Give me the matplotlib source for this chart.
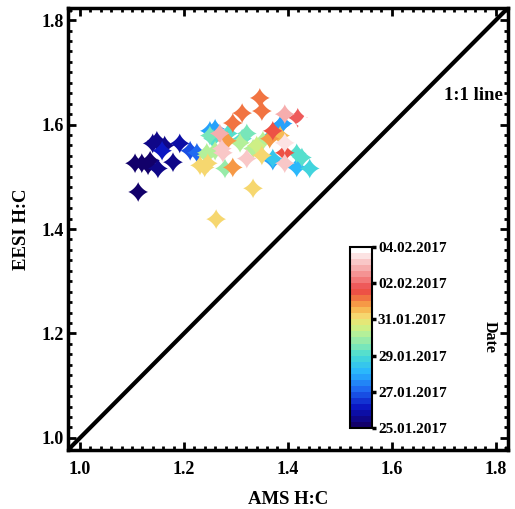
import numpy as np
import matplotlib
matplotlib.use('Agg')
import matplotlib.pyplot as plt
from matplotlib.path import Path
from matplotlib.colors import LinearSegmentedColormap
from matplotlib.ticker import MultipleLocator

plt.rcParams['font.family'] = 'Liberation Serif'
plt.rcParams['font.weight'] = 'bold'

# AMS H:C, EESI H:C and measurement time (days after 25.01.2017)
ams_hc = [1.112, 1.106, 1.119, 1.131, 1.135, 1.150, 1.179, 1.140, 1.148, 1.163,
          1.158, 1.192, 1.212, 1.225, 1.250, 1.256, 1.244, 1.260, 1.231, 1.246,
          1.279, 1.294, 1.269, 1.283, 1.321, 1.308, 1.321, 1.340, 1.350, 1.294,
          1.312, 1.346, 1.350, 1.394, 1.371, 1.385, 1.385, 1.394, 1.394, 1.371,
          1.394, 1.417, 1.442, 1.427, 1.433, 1.419, 1.365, 1.262, 1.333, 1.275,
          1.260, 1.285, 1.250, 1.244, 1.312, 1.273, 1.240, 1.333, 1.390, 1.352,
          1.365, 1.417, 1.371]
eesi_hc = [1.471, 1.526, 1.526, 1.522, 1.531, 1.516, 1.528, 1.564, 1.569, 1.560,
           1.550, 1.564, 1.550, 1.546, 1.588, 1.573, 1.541, 1.550, 1.522, 1.526,
           1.516, 1.518, 1.583, 1.569, 1.583, 1.565, 1.535, 1.560, 1.541, 1.603,
           1.622, 1.651, 1.626, 1.620, 1.588, 1.579, 1.598, 1.565, 1.546, 1.535,
           1.526, 1.518, 1.516, 1.537, 1.601, 1.613, 1.573, 1.419, 1.478, 1.546,
           1.592, 1.583, 1.579, 1.546, 1.573, 1.554, 1.518, 1.554, 1.602, 1.569,
           1.575, 1.545, 1.531]
day = [0.1, 0.2, 0.2, 0.3, 0.3, 0.4, 0.6, 0.4, 0.4, 0.5,
       1.0, 0.7, 1.8, 2.0, 2.8, 4.3, 5.2, 5.0, 6.0, 6.2,
       4.8, 6.8, 8.8, 6.9, 4.4, 5.3, 9.3, 5.4, 6.2, 7.0,
       7.0, 7.1, 7.1, 8.9, 7.6, 6.6, 2.9, 9.4, 7.5, 3.6,
       9.0, 3.0, 3.8, 4.1, 9.7, 7.8, 6.7, 6.2, 6.2, 9.2,
       2.8, 4.2, 4.5, 5.1, 4.0, 9.0, 6.1, 5.2, 2.7, 5.3,
       3.7, 4.2, 2.9]

date_ticks = [0, 2, 4, 6, 8, 10]
date_labels = ['25.01.2017', '27.01.2017', '29.01.2017',
               '31.01.2017', '02.02.2017', '04.02.2017']

# colour map: navy -> blue -> cyan -> green -> yellow -> orange -> red -> pink -> white
cmap = LinearSegmentedColormap.from_list('hc', [
    (0.00, '#12006a'), (0.10, '#0a14c0'), (0.20, '#1e64f0'), (0.30, '#28b4ff'),
    (0.40, '#48dcd4'), (0.46, '#84e8b4'), (0.52, '#b6f098'), (0.57, '#dcee7a'),
    (0.62, '#f6d870'), (0.67, '#f8ae48'), (0.72, '#f27842'), (0.77, '#eb4646'),
    (0.83, '#f27a7a'), (0.89, '#f6a8a8'), (0.95, '#fad6d6'), (1.00, '#ffffff')], N=30)

# four-pointed star with concave sides
t = np.linspace(0, 2 * np.pi, 81)
c, s = np.cos(t), np.sin(t)
star = Path(np.column_stack([np.sign(c) * np.abs(c) ** 2.7,
                             np.sign(s) * np.abs(s) ** 2.7]), closed=True)

fig = plt.figure(figsize=(5.15, 5.09), dpi=100)
ax = fig.add_axes([0.132, 0.116, 0.854, 0.868])

order = np.argsort(day, kind='stable')
ax.scatter(np.array(ams_hc)[order], np.array(eesi_hc)[order], c=np.array(day)[order],
           cmap=cmap, vmin=0, vmax=10, marker=star, s=210, linewidths=0, zorder=3)

lims = [0.977, 1.823]
ax.plot(lims, lims, color='black', lw=3, zorder=4)
ax.set_xlim(lims)
ax.set_ylim(lims)
ax.text(1.756, 1.655, '1:1 line', ha='center', va='center', fontsize=13.5, fontweight='bold')

ax.xaxis.set_major_locator(MultipleLocator(0.2))
ax.xaxis.set_minor_locator(MultipleLocator(0.02))
ax.yaxis.set_major_locator(MultipleLocator(0.2))
ax.yaxis.set_minor_locator(MultipleLocator(0.02))
ax.tick_params(which='both', direction='in', top=True, right=True, width=2, labelsize=13)
ax.tick_params(which='major', length=6)
ax.tick_params(which='minor', length=3)
ax.tick_params(axis='x', which='major', pad=8)
ax.tick_params(axis='y', which='major', pad=3)
for sp in ax.spines.values():
    sp.set_linewidth(2.5)

ax.set_xlabel('AMS H:C', fontsize=13.5, fontweight='bold', labelpad=9)
ax.set_ylabel('EESI H:C', fontsize=13.5, fontweight='bold', labelpad=8)

cax = fig.add_axes([0.680, 0.159, 0.043, 0.356])
sm = plt.cm.ScalarMappable(cmap=cmap, norm=plt.Normalize(0, 10))
cb = fig.colorbar(sm, cax=cax, ticks=date_ticks)
cb.ax.set_yticklabels(date_labels)
cb.ax.tick_params(direction='out', length=3, width=2.5, labelsize=11, pad=1)
cb.outline.set_linewidth(1.5)
fig.text(0.951, 0.338, 'Date', rotation=270, ha='center', va='center',
         fontsize=11.5, fontweight='bold')

fig.savefig('out.png', dpi=100)
